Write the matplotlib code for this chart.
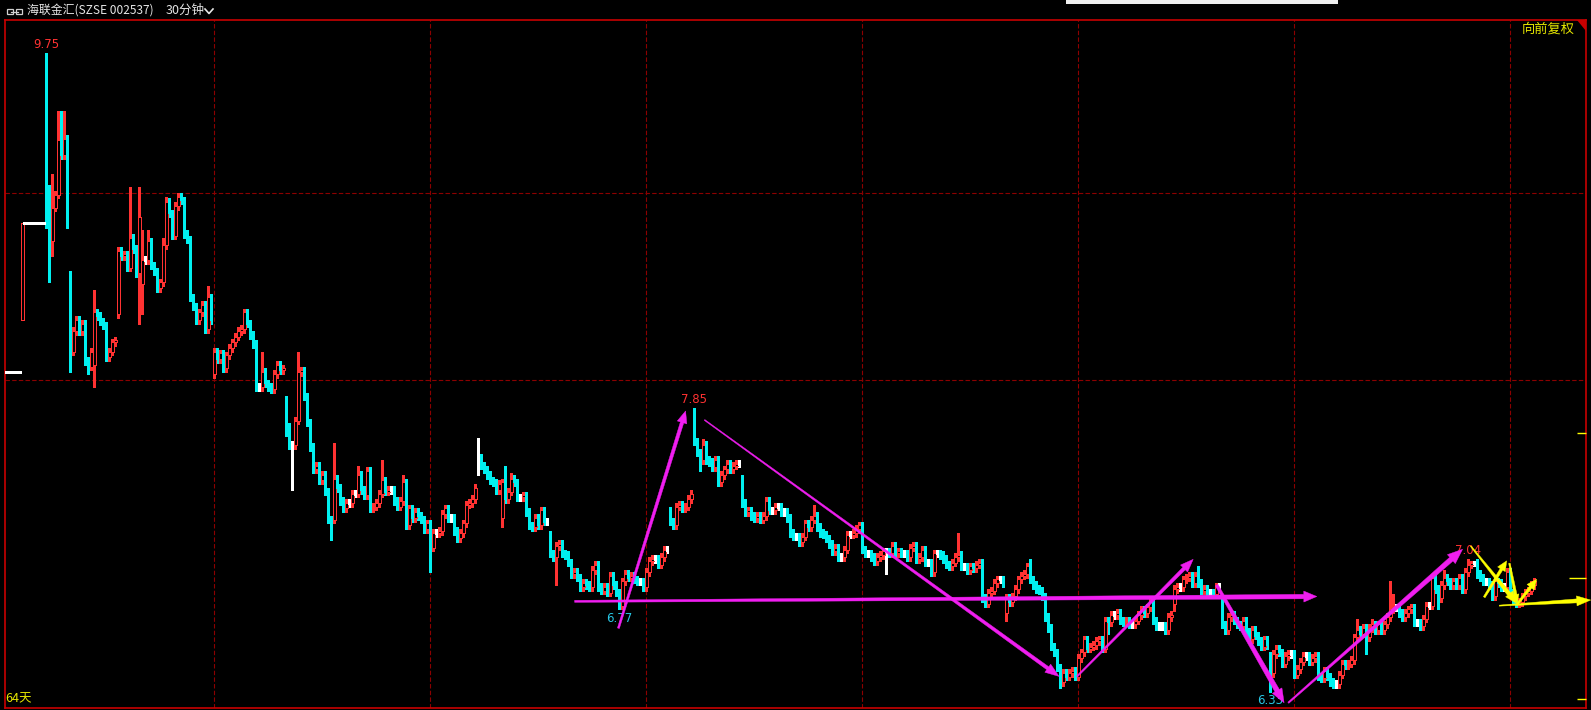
import numpy as np
import matplotlib
matplotlib.use('Agg')
import matplotlib.pyplot as plt
from matplotlib.patches import Polygon, Rectangle
from matplotlib.lines import Line2D
from matplotlib.transforms import IdentityTransform

plt.rcParams['font.family'] = ['Noto Sans CJK SC', 'DejaVu Sans']

W, H = 1591, 710

# 30 minute bars, 8 bars per trading day, closes in cents
pre_closes = [804, 804, 804, 804, 804, 804]  # flat bars left of the first day
closes = [
    884, 884, 884, 884, 884, 884, 884, 884,
    904, 874, 892, 899, 928, 920, 929, 893,
    815, 826, 832, 826, 830, 810, 807, 815,
    836, 834, 831, 829, 812, 815, 820, 821,
    869, 866, 867, 860, 876, 870, 857, 887,
    864, 864, 874, 861, 858, 849, 852, 872,
    895, 889, 877, 893, 898, 896, 878, 875,
    844, 839, 832, 836, 840, 827, 844, 832,
    815, 811, 814, 806, 813, 817, 820, 823,
    826, 827, 836, 830, 824, 819, 796, 796,
    804, 798, 796, 795, 803, 808, 805, 806,
    775, 765, 765, 778, 804, 805, 791, 777,
    764, 752, 754, 746, 749, 740, 725, 716,
    747, 742, 735, 731, 734, 734, 739, 739,
    749, 741, 738, 751, 731, 732, 734, 739,
    746, 740, 741, 741, 735, 732, 735, 745,
    722, 731, 726, 729, 727, 725, 720, 723,
    710, 718, 718, 719, 728, 731, 726, 726,
    719, 715, 718, 723, 733, 734, 736, 742,
    758, 754, 752, 749, 746, 745, 741, 744,
    745, 736, 740, 747, 745, 737, 737, 738,
    729, 722, 721, 726, 722, 730, 724, 724,
    707, 705, 711, 712, 707, 706, 702, 696,
    697, 694, 689, 691, 690, 689, 698, 701,
    689, 687, 689, 686, 695, 690, 686, 679,
    692, 696, 694, 695, 693, 692, 692, 689,
    697, 703, 704, 704, 701, 705, 709, 709,
    724, 722, 732, 733, 731, 732, 736, 739,
    767, 761, 757, 765, 757, 756, 753, 757,
    745, 749, 752, 755, 752, 754, 755, 755,
    734, 729, 730, 727, 726, 727, 725, 727,
    735, 730, 730, 732, 732, 729, 729, 726,
    718, 716, 716, 713, 716, 723, 721, 725,
    727, 721, 718, 717, 715, 712, 708, 710,
    705, 705, 709, 717, 717, 718, 720, 722,
    709, 707, 707, 705, 703, 705, 706, 708,
    708, 707, 711, 707, 708, 707, 707, 705,
    710, 711, 704, 705, 709, 702, 702, 697,
    707, 707, 706, 704, 701, 700, 702, 705,
    706, 700, 700, 698, 700, 699, 701, 702,
    683, 680, 686, 687, 691, 693, 693, 691,
    683, 681, 684, 688, 693, 695, 696, 700,
    693, 690, 688, 687, 684, 673, 667, 657,
    654, 646, 638, 643, 641, 643, 644, 641,
    651, 654, 661, 656, 657, 658, 660, 661,
    656, 671, 670, 674, 674, 675, 671, 670,
    671, 669, 669, 671, 674, 677, 675, 678,
    682, 671, 668, 668, 668, 666, 673, 674,
    688, 689, 689, 693, 694, 695, 691, 695,
    691, 687, 688, 686, 686, 685, 689, 689,
    669, 666, 673, 674, 671, 669, 668, 671,
    665, 661, 666, 663, 660, 657, 661, 658,
    643, 653, 656, 654, 648, 652, 653, 653,
    642, 645, 649, 652, 652, 649, 651, 652,
    641, 640, 644, 641, 638, 637, 637, 642,
    648, 647, 648, 650, 662, 666, 664, 667,
    662, 667, 669, 666, 669, 666, 669, 673,
    677, 678, 678, 675, 673, 675, 677, 678,
    670, 670, 668, 672, 679, 679, 694, 688,
    683, 690, 694, 692, 690, 692, 690, 694,
    688, 697, 701, 702, 702, 696, 694, 692,
    692, 690, 684, 692, 691, 689, 689, 697,
    686, 682, 680, 681, 684, 686, 687, 690,
    692,
]
# opening gaps at the start of some days
gap_opens = {0: 832, 8: 930, 16: 856, 24: 808, 32: 835, 40: 851, 64: 803,
             88: 789, 104: 725, 152: 758, 160: 726, 176: 717, 216: 730,
             224: 770, 240: 747, 328: 675, 384: 680, 400: 682, 416: 652}
# long shadows
highs = {0: 884, 8: 975, 9: 904, 10: 910, 12: 944, 13: 944, 14: 944, 24: 848, 36: 903,
         39: 903, 40: 880, 42: 880, 47: 876, 48: 898, 62: 850, 80: 815, 92: 815,
         104: 766, 112: 754, 120: 757, 127: 749, 152: 769, 161: 754, 163: 750,
         224: 785, 227: 768, 264: 733, 312: 718, 335: 702, 336: 704, 362: 673,
         392: 700, 445: 672, 450: 672, 456: 692, 457: 685, 474: 698, 482: 704,
         483: 703, 484: 703}
lows = {0: 832, 8: 881, 9: 852, 10: 866, 15: 881, 16: 804, 22: 803, 24: 796, 39: 830,
        40: 835, 88: 770, 90: 741, 136: 697, 152: 749, 160: 721, 178: 690,
        199: 677, 226: 751, 288: 696, 328: 671, 346: 635, 347: 636, 362: 664,
        384: 676, 416: 633, 448: 653, 472: 677}
flat_bars = [1, 2, 3, 4, 5, 6, 7]
shadow = 2  # usual shadow length beyond the body, cents

peak_bars = [8, 224, 482]
trough_bars = [199, 416]
grid_prices = [8.0, 9.0]
grid_bars = [64, 136, 208, 280, 352, 424, 496]

# drawn trend arrows: (bar, price) -> (bar, price)
magenta_arrows = [
    (198.8, 6.669, 221.2, 7.832),
    (227.5, 7.784, 345.7, 6.411),
    (184.2, 6.813, 431.6, 6.839),
    (351.6, 6.410, 390.4, 7.038),
    (398.2, 6.900, 420.7, 6.270),
    (422.1, 6.270, 480.2, 7.092),
]
yellow_arrows = [
    (482.9, 7.109, 498.2, 6.802),
    (487.4, 6.835, 494.9, 7.030),
    (495.8, 7.017, 498.4, 6.802),
    (498.2, 6.793, 504.9, 6.931),
    (492.4, 6.790, 522.9, 6.820),
]
side_marks = [(7.714, 518.3), (6.938, 515.7), (6.292, 518.3)]

RED = '#FF3232'
CYAN = '#00F0F0'
BORDER = '#C80000'
GRID = '#8C0000'
MAGENTA = '#F01EF0'
YELLOW = '#FFFF00'

# ---- build OHLC ----
npre = len(pre_closes)
c = np.array(pre_closes + closes)
x = np.arange(len(c)) - npre
o = np.r_[c[0], c[:-1]]
for k, v in gap_opens.items():
    o[k + npre] = v
hi = np.maximum(o, c) + shadow
lo = np.minimum(o, c) - shadow
flat = np.zeros(len(c), bool)
flat[:npre] = True
flat[np.array(flat_bars) + npre] = True
hi[flat] = c[flat]
lo[flat] = c[flat]
for k, v in highs.items():
    hi[k + npre] = v
for k, v in lows.items():
    lo[k + npre] = v

up = c > o
dn = c < o
eq = (c == o) & ~flat

fig = plt.figure(figsize=(W / 100, H / 100), dpi=100, facecolor='black')
ax = fig.add_axes([5 / W, 2 / H, 1581 / W, 688 / H], facecolor='black')
ax.set_xlim(-5.667, 521.33)
ax.set_ylim(6.242, 9.925)
ax.set_xticks([])
ax.set_yticks([])
for s in ax.spines.values():
    s.set_color(BORDER)
    s.set_linewidth(1.2)

for p in grid_prices:
    ax.axhline(p, color=GRID, lw=0.8, ls=(0, (4, 2)), zorder=1)
for b in grid_bars:
    ax.axvline(b, color=GRID, lw=0.8, ls=(0, (4, 2)), zorder=1)

# shadows
wc = np.where(up, RED, np.where(dn, CYAN, 'white'))
m = ~flat
ax.vlines(x[m], lo[m] / 100, hi[m] / 100, colors=wc[m], lw=0.75, zorder=2,
          antialiased=False)

# bodies: rising hollow red, falling solid cyan, unchanged white
ax.bar(x[up], (c - o)[up] / 100, bottom=o[up] / 100, width=1.0,
       facecolor='black', edgecolor=RED, linewidth=0.72, zorder=3, antialiased=False)
ax.bar(x[dn], (o - c)[dn] / 100, bottom=c[dn] / 100, width=0.85,
       color=CYAN, edgecolor=CYAN, linewidth=0.4, zorder=3, antialiased=False)
ax.hlines(c[eq] / 100, x[eq] - 0.45, x[eq] + 0.45, colors='white', lw=0.8, zorder=3,
          antialiased=False)
ax.hlines(c[flat] / 100, x[flat] - 0.55, x[flat] + 0.55, colors='white', lw=0.8, zorder=3,
          antialiased=False)

# extreme price labels
for b in peak_bars:
    v = hi[b + npre] / 100
    ax.annotate(f'{v:.2f}', (b, v), xytext=(0, 8), textcoords='offset pixels',
                ha='center', va='center', color=RED, fontsize=8.5, family='DejaVu Sans', zorder=4)
for b in trough_bars:
    v = lo[b + npre] / 100
    ax.annotate(f'{v:.2f}', (b, v), xytext=(0, -9), textcoords='offset pixels',
                ha='center', va='center', color='#28C8E6', fontsize=8.5, family='DejaVu Sans', zorder=4)


def tapered_arrow(x0, y0, x1, y1, w0, w1, hl, hw, color):
    p0 = ax.transData.transform((x0, y0))
    p1 = ax.transData.transform((x1, y1))
    d = p1 - p0
    u = d / np.hypot(*d)
    n = np.array([-u[1], u[0]])
    b = p1 - u * hl
    pts = [p0 + n * w0 / 2, b + n * w1 / 2, b + n * hw / 2, p1,
           b - n * hw / 2, b - n * w1 / 2, p0 - n * w0 / 2]
    ax.add_patch(Polygon(pts, closed=True, transform=IdentityTransform(),
                         facecolor=color, edgecolor=color, lw=0.3, clip_on=False, zorder=6))


mag_style = [(2, 3.5, 12, 10), (1, 3.5, 14, 10), (2, 4.5, 13, 11),
             (1.5, 3.5, 13, 10), (3, 5, 14, 11), (1.5, 5, 15, 12)]
for (a, b_, c_, d_), st in zip(magenta_arrows, mag_style):
    tapered_arrow(a, b_, c_, d_, *st, MAGENTA)
yel_style = [(1, 4, 12, 9), (2, 3, 10, 9), (1.5, 3, 9, 7), (2, 3, 10, 9), (1, 4, 14, 10)]
for (a, b_, c_, d_), st in zip(yellow_arrows, yel_style):
    tapered_arrow(a, b_, c_, d_, *st, YELLOW)

for p, start in side_marks:
    ax.hlines(p, start, 521.33, colors=YELLOW, lw=1, clip_on=False, zorder=5)

# ---- header and corner texts ----
def px(xp, yp):
    return xp / W, 1 - yp / H

fig.text(*px(27, 10), '海联金汇(SZSE 002537)', color='#E6E6E6', fontsize=8.6,
         ha='left', va='center')
fig.text(*px(166, 10), '30分钟', color='#E6E6E6', fontsize=9, ha='left', va='center')
fig.add_artist(Line2D([205, 209, 213], [H - 9, H - 13.5, H - 9], color='#E6E6E6',
                      lw=1.2, transform=IdentityTransform()))
# link icon
for x0 in (7, 16):
    fig.add_artist(Rectangle((x0, H - 14), 6, 5, fill=False, edgecolor='#D0D0D0',
                             lw=0.9, transform=IdentityTransform()))
fig.add_artist(Line2D([11, 18], [H - 11.5, H - 11.5], color='#D0D0D0', lw=0.9,
                      transform=IdentityTransform()))
fig.add_artist(Rectangle((1066, H - 4), 272, 4, facecolor='#F0F0F0', edgecolor='none',
                         transform=IdentityTransform()))

fig.text(*px(1575, 29), '向前复权', color='#E6E600', fontsize=9.5, ha='right', va='center')
fig.add_artist(Polygon([(1577, H - 20), (1586, H - 20), (1586, H - 31)], closed=True,
                       facecolor=BORDER, edgecolor='none', transform=IdentityTransform()))
fig.text(*px(5, 699), '64天', color='#E6E600', fontsize=9, ha='left', va='center')

fig.savefig('out.png', dpi=100, facecolor='black')
